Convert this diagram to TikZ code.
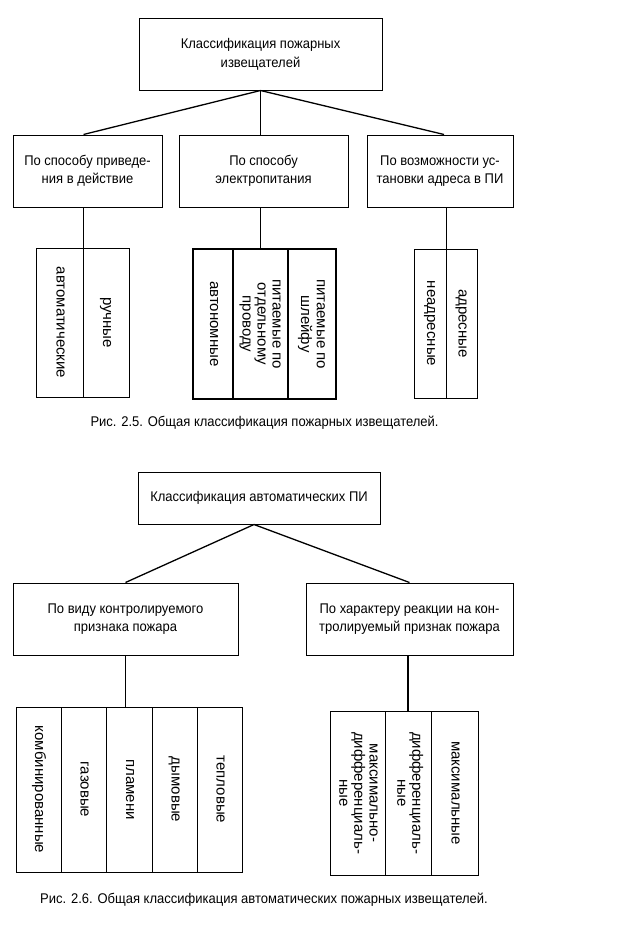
\documentclass[tikz,border=0pt]{standalone}
\usepackage{fontspec}
\setmainfont{Liberation Sans}
\newcommand\htx[1]{\scalebox{1}[1.08]{\fontsize{13}{17}\selectfont\begin{tabular}{@{}c@{}}#1\end{tabular}}}
\newcommand\vtx[1]{\rotatebox{-90}{\fontsize{15}{15}\selectfont\begin{tabular}{@{}c@{}}#1\end{tabular}}}
\tikzset{
  box/.style={draw, line width=1pt, inner sep=0pt, align=center},
  cell/.style={draw, line width=1pt, inner sep=0pt},
  thickcell/.style={cell, line width=2pt},
  conn/.style={line width=1.3pt},
  capt/.style={inner sep=0pt}
}
\begin{document}
\begin{tikzpicture}[x=1pt,y=-1pt]
\useasboundingbox (0,0) rectangle (632,934);
% ---------- Figure 2.5 ----------
\node[box, minimum width=243, minimum height=71] (top) at (260.5,54.5) {\htx{Классификация пожарных\\извещателей}};
\node[box, minimum width=149, minimum height=72] (A) at (87.5,171) {\htx{По способу приведе-\\ния в действие}};
\node[box, minimum width=169, minimum height=72] (B) at (263.5,171) {\htx{По способу\\электропитания}};
\node[box, minimum width=146, minimum height=72] (C) at (440,171) {\htx{По возможности ус-\\тановки адреса в ПИ}};

\node[cell, minimum width=47, minimum height=149] (g1a) at (59.5,322.5) {\vtx{автоматические}};
\node[cell, minimum width=46, minimum height=149] (g1b) at (106,322.5) {\vtx{ручные}};

\node[thickcell, minimum width=40, minimum height=150] (g2a) at (213,324) {\vtx{автономные}};
\node[thickcell, minimum width=55, minimum height=150] (g2b) at (260.5,324) {\vtx{питаемые по\\отдельному\\проводу}};
\node[thickcell, minimum width=48, minimum height=150] (g2c) at (312,324) {\vtx{питаемые по\\шлейфу}};

\node[cell, minimum width=32, minimum height=149] (g3a) at (430,323.5) {\vtx{неадресные}};
\node[cell, minimum width=31, minimum height=149] (g3b) at (461.5,323.5) {\vtx{адресные}};

\draw[conn] (top.south) -- (g1a.north east |- A.north);
\draw[conn] (top.south) -- (top.south |- B.north);
\draw[conn] (top.south) -- ([xshift=4pt]C.north);
\draw[conn] (g1a.north east) -- (g1a.north east |- A.south);
\draw[conn] (g2b.north) -- (g2b.north |- B.south);
\draw[conn] (g3a.north east) -- (g3a.north east |- C.south);

\node[capt] (cap1) at (264.5,423) {\htx{Рис. 2.5. Общая классификация пожарных извещателей.}};

% ---------- Figure 2.6 ----------
\node[box, minimum width=242, minimum height=52] (top2) at (259,498) {\htx{Классификация автоматических ПИ}};
\node[box, minimum width=225, minimum height=72] (L) at (125.5,619) {\htx{По виду контролируемого\\признака пожара}};
\node[box, minimum width=207, minimum height=72] (R) at (409.5,619) {\htx{По характеру реакции на кон-\\тролируемый признак пожара}};

\node[cell, minimum width=45, minimum height=165] (h1) at (38.5,789.5) {\vtx{комбинированные}};
\node[cell, minimum width=45, minimum height=165] (h2) at (83.5,789.5) {\vtx{газовые}};
\node[cell, minimum width=46, minimum height=165] (h3) at (129,789.5) {\vtx{пламени}};
\node[cell, minimum width=45, minimum height=165] (h4) at (174.5,789.5) {\vtx{дымовые}};
\node[cell, minimum width=45, minimum height=165] (h5) at (219.5,789.5) {\vtx{тепловые}};

\node[cell, minimum width=55, minimum height=164] (k1) at (357.5,793) {\vtx{максимально-\\дифференциаль-\\ные}};
\node[cell, minimum width=46, minimum height=164] (k2) at (408,793) {\vtx{дифференциаль-\\ные}};
\node[cell, minimum width=47, minimum height=164] (k3) at (454.5,793) {\vtx{максимальные}};

\draw[conn] ([xshift=-5pt]top2.south) -- (L.north);
\draw[conn] ([xshift=-5pt]top2.south) -- (R.north);
\draw[conn] (L.south) -- (L.south |- h3.north);
\draw[conn] (k2.north) -- (k2.north |- R.south);

\node[capt] (cap2) at (264,900) {\htx{Рис. 2.6. Общая классификация автоматических пожарных извещателей.}};
\end{tikzpicture}
\end{document}
